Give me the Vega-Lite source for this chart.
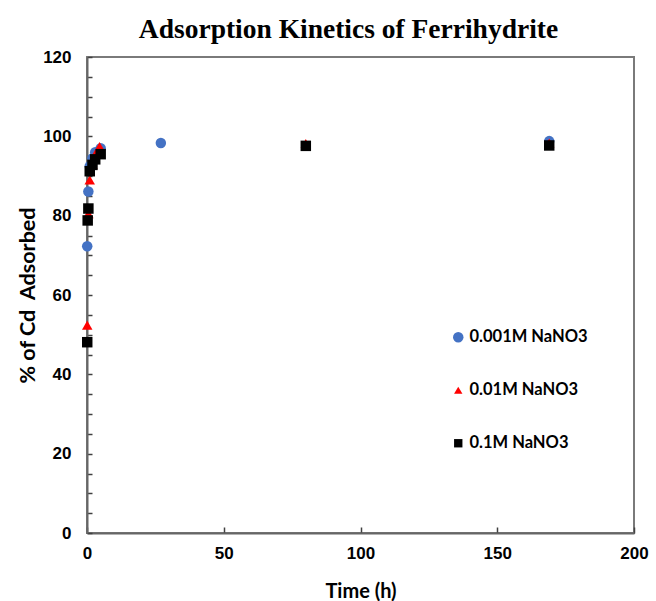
{
  "$schema": "https://vega.github.io/schema/vega-lite/v6.json",
  "width": 547,
  "height": 476,
  "autosize": "none",
  "padding": {"left": 87, "top": 57, "right": 22, "bottom": 68},
  "background": "white",
  "title": {
    "text": "Adsorption Kinetics of Ferrihydrite",
    "font": "Liberation Serif",
    "fontSize": 27.5,
    "fontWeight": "bold",
    "color": "#000000",
    "anchor": "middle",
    "dx": -12,
    "offset": 5
  },
  "config": {
    "view": {"stroke": "#7a7a7a", "strokeWidth": 2},
    "axis": {
      "grid": false,
      "ticks": true,
      "domainColor": "#666666",
      "domainWidth": 2,
      "tickColor": "#404040",
      "tickWidth": 1.5,
      "labelFlush": false,
      "labelFont": "Liberation Sans",
      "labelFontSize": 17,
      "labelFontWeight": "bold",
      "labelColor": "#000000",
      "titleFont": "Lato",
      "titleFontSize": 20,
      "titleFontWeight": "bold",
      "titleColor": "#000000"
    }
  },
  "data": {
    "values": [
      {"series": "0.001M NaNO3", "time": 0.083, "pct": 72.3},
      {"series": "0.001M NaNO3", "time": 0.5, "pct": 86.1},
      {"series": "0.001M NaNO3", "time": 1, "pct": 92.5},
      {"series": "0.001M NaNO3", "time": 2, "pct": 94.5},
      {"series": "0.001M NaNO3", "time": 3, "pct": 96.0},
      {"series": "0.001M NaNO3", "time": 5, "pct": 97.0},
      {"series": "0.001M NaNO3", "time": 27, "pct": 98.3},
      {"series": "0.001M NaNO3", "time": 169, "pct": 98.8},
      {"series": "0.01M NaNO3", "time": 0.083, "pct": 52.4},
      {"series": "0.01M NaNO3", "time": 0.5, "pct": 80.5},
      {"series": "0.01M NaNO3", "time": 1, "pct": 89.0},
      {"series": "0.01M NaNO3", "time": 2, "pct": 93.0},
      {"series": "0.01M NaNO3", "time": 3, "pct": 95.5},
      {"series": "0.01M NaNO3", "time": 4.6, "pct": 97.4},
      {"series": "0.01M NaNO3", "time": 80, "pct": 98.2},
      {"series": "0.01M NaNO3", "time": 169, "pct": 98.3},
      {"series": "0.1M NaNO3", "time": 0.083, "pct": 48.1},
      {"series": "0.1M NaNO3", "time": 0.25, "pct": 78.8},
      {"series": "0.1M NaNO3", "time": 0.5, "pct": 81.8},
      {"series": "0.1M NaNO3", "time": 1, "pct": 91.2},
      {"series": "0.1M NaNO3", "time": 2, "pct": 92.8},
      {"series": "0.1M NaNO3", "time": 3, "pct": 94.2},
      {"series": "0.1M NaNO3", "time": 5, "pct": 95.5},
      {"series": "0.1M NaNO3", "time": 80, "pct": 97.6},
      {"series": "0.1M NaNO3", "time": 169, "pct": 97.7}
    ]
  },
  "mark": {"type": "point", "filled": true, "opacity": 1, "size": 110},
  "encoding": {
    "x": {
      "field": "time",
      "type": "quantitative",
      "title": "Time (h)",
      "scale": {"domain": [0, 200], "nice": false, "zero": true},
      "axis": {
        "values": [0, 50, 100, 150, 200],
        "tickSize": -6,
        "labelPadding": 18,
        "titlePadding": 20
      }
    },
    "y": {
      "field": "pct",
      "type": "quantitative",
      "title": "% of Cd\u00a0 Adsorbed",
      "scale": {"domain": [0, 120], "nice": false},
      "axis": {
        "values": [0, 5, 10, 15, 20, 25, 30, 35, 40, 45, 50, 55, 60, 65, 70, 75, 80, 85, 90, 95, 100, 105, 110, 115, 120],
        "labelExpr": "datum.value % 20 === 0 ? datum.label : ''",
        "labelOverlap": false,
        "tickSize": -5,
        "labelPadding": 21,
        "titlePadding": 3,
        "titleFontSize": 21.5
      }
    },
    "shape": {
      "field": "series",
      "type": "nominal",
      "scale": {
        "domain": ["0.001M NaNO3", "0.01M NaNO3", "0.1M NaNO3"],
        "range": ["circle", "triangle-up", "square"]
      },
      "legend": null
    },
    "color": {
      "field": "series",
      "type": "nominal",
      "scale": {
        "domain": ["0.001M NaNO3", "0.01M NaNO3", "0.1M NaNO3"],
        "range": ["#4472C4", "#FF0000", "#000000"]
      },
      "legend": {
        "title": null,
        "orient": "none",
        "legendX": 363,
        "legendY": 272,
        "padding": 0,
        "rowPadding": 36,
        "symbolType": "circle",
        "symbolSize": 110,
        "symbolOpacity": 1,
        "labelFont": "Lato",
        "labelFontSize": 16.5,
        "labelFontWeight": "bold",
        "labelColor": "#000000",
        "labelOffset": 3,
        "encode": {
          "symbols": {
            "update": {
              "shape": {"signal": "datum.value === '0.001M NaNO3' ? 'circle' : datum.value === '0.01M NaNO3' ? 'triangle-up' : 'square'"},
              "size": {"signal": "datum.value === '0.001M NaNO3' ? 110 : 70"}
            }
          }
        }
      }
    }
  }
}
